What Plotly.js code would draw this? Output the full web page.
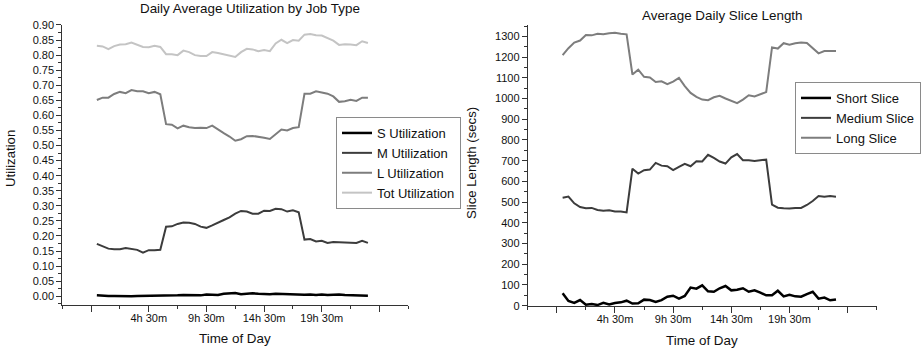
<!DOCTYPE html>
<html>
<head>
<meta charset="utf-8">
<script src="https://cdn.plot.ly/plotly-3.0.1.min.js"></script>
<style>
  html, body { margin: 0; padding: 0; background: #fff; }
  #chart { width: 921px; height: 351px; }
</style>
</head>
<body>
<div id="chart"></div>
<script>
// Half-hour time slots (hours after midnight)
const hours = [0, 0.5, 1, 1.5, 2, 2.5, 3, 3.5, 4, 4.5, 5, 5.5, 6, 6.5, 7, 7.5,
  8, 8.5, 9, 9.5, 10, 10.5, 11, 11.5, 12, 12.5, 13, 13.5, 14, 14.5, 15, 15.5,
  16, 16.5, 17, 17.5, 18, 18.5, 19, 19.5, 20, 20.5, 21, 21.5, 22, 22.5, 23, 23.5];

// Utilization by job type
const sUtil = [0.003, 0.001, 0.001, 0.001, 0.000, 0.001, 0.000, 0.001, 0.001, 0.001, 0.002, 0.002,
  0.002, 0.002, 0.003, 0.004, 0.003, 0.002, 0.003, 0.006, 0.004, 0.004, 0.008, 0.009,
  0.011, 0.007, 0.008, 0.010, 0.008, 0.007, 0.007, 0.008, 0.007, 0.008, 0.006, 0.005,
  0.005, 0.006, 0.004, 0.006, 0.004, 0.005, 0.006, 0.004, 0.004, 0.003, 0.002, 0.002];
const mUtil = [0.174, 0.167, 0.158, 0.156, 0.156, 0.160, 0.158, 0.154, 0.145, 0.153, 0.153, 0.154,
  0.231, 0.232, 0.240, 0.245, 0.244, 0.240, 0.231, 0.227, 0.235, 0.245, 0.253, 0.262,
  0.274, 0.283, 0.281, 0.274, 0.274, 0.284, 0.283, 0.290, 0.289, 0.281, 0.285, 0.279,
  0.188, 0.190, 0.182, 0.184, 0.177, 0.180, 0.179, 0.179, 0.177, 0.177, 0.184, 0.177];
const lUtil = [0.651, 0.659, 0.659, 0.671, 0.678, 0.674, 0.684, 0.680, 0.680, 0.674, 0.678, 0.670,
  0.571, 0.569, 0.557, 0.566, 0.561, 0.558, 0.559, 0.558, 0.566, 0.552, 0.541, 0.530,
  0.516, 0.521, 0.531, 0.532, 0.530, 0.526, 0.522, 0.538, 0.553, 0.550, 0.558, 0.561,
  0.672, 0.672, 0.680, 0.676, 0.672, 0.663, 0.645, 0.647, 0.652, 0.648, 0.659, 0.659];
const totUtil = [0.831, 0.829, 0.820, 0.830, 0.835, 0.836, 0.842, 0.834, 0.827, 0.826, 0.831, 0.827,
  0.803, 0.803, 0.800, 0.815, 0.810, 0.800, 0.797, 0.797, 0.810, 0.807, 0.803, 0.797,
  0.794, 0.810, 0.821, 0.819, 0.813, 0.817, 0.813, 0.839, 0.851, 0.840, 0.850, 0.848,
  0.868, 0.870, 0.866, 0.865, 0.856, 0.848, 0.834, 0.836, 0.835, 0.833, 0.846, 0.840];

// Average slice length in seconds
const shortSlice = [60, 23, 13, 27, 5, 8, 3, 14, 6, 13, 16, 24,
  10, 11, 29, 27, 18, 27, 43, 48, 34, 47, 87, 82,
  98, 69, 67, 84, 95, 74, 77, 84, 67, 74, 63, 50,
  50, 72, 45, 53, 45, 43, 56, 67, 34, 39, 26, 30];
const mediumSlice = [521, 527, 494, 476, 470, 472, 462, 458, 461, 455, 455, 450,
  661, 638, 654, 657, 689, 676, 673, 654, 670, 685, 673, 697,
  696, 728, 713, 696, 686, 716, 732, 702, 702, 699, 702, 705,
  488, 473, 470, 469, 472, 472, 486, 505, 529, 526, 529, 526];
const longSlice = [1209, 1243, 1270, 1280, 1307, 1305, 1313, 1310, 1315, 1317, 1313, 1310,
  1116, 1139, 1105, 1102, 1080, 1083, 1069, 1082, 1100, 1060, 1027, 1008,
  995, 992, 1006, 1013, 1000, 990, 978, 995, 1016, 1010, 1021, 1031,
  1247, 1241, 1267, 1260, 1267, 1270, 1268, 1243, 1218, 1229, 1230, 1229];

// Time-of-day axis ticks
const majorTicks = [-0.5, 4.5, 9.5, 14.5, 19.5, 24.5];
const majorLabels = ['', '4h 30m', '9h 30m', '14h 30m', '19h 30m', ''];
const minorTicks = [-3, 2, 7, 12, 17, 22, 27];

const FONT = 'Liberation Sans, Arial, Helvetica, sans-serif';
const AXIS_COLOR = '#333';

function line(name, y, color, width, xa, ya, legend) {
  return {
    type: 'scatter', mode: 'lines', name: name,
    x: hours, y: y, xaxis: xa, yaxis: ya, legend: legend,
    line: { color: color, width: width },
    hoverinfo: 'x+y'
  };
}

const traces = [
  line('S Utilization', sUtil, '#000000', 2.5, 'x', 'y', 'legend'),
  line('M Utilization', mUtil, '#3c3c3c', 2, 'x', 'y', 'legend'),
  line('L Utilization', lUtil, '#7d7d7d', 2, 'x', 'y', 'legend'),
  line('Tot Utilization', totUtil, '#c4c4c4', 2, 'x', 'y', 'legend'),
  line('Short Slice', shortSlice, '#000000', 2.5, 'x2', 'y2', 'legend2'),
  line('Medium Slice', mediumSlice, '#3c3c3c', 2, 'x2', 'y2', 'legend2'),
  line('Long Slice', longSlice, '#7d7d7d', 2, 'x2', 'y2', 'legend2')
];

function timeAxis(domain, anchor) {
  return {
    domain: domain, anchor: anchor, range: [-3, 27],
    showline: true, linecolor: AXIS_COLOR, linewidth: 1,
    showgrid: false, zeroline: false,
    tickmode: 'array', tickvals: majorTicks, ticktext: majorLabels,
    ticks: 'outside', ticklen: 6, tickwidth: 1, tickcolor: AXIS_COLOR,
    ticklabelstandoff: -3,
    tickfont: { family: FONT, size: 11, color: '#111' },
    minor: { tickmode: 'array', tickvals: minorTicks, ticks: 'outside', ticklen: 3, tickcolor: AXIS_COLOR, showgrid: false }
  };
}

function valueAxis(domain, anchor, range, dtick, minorDtick, fmt) {
  return {
    domain: domain, anchor: anchor, range: range,
    showline: true, linecolor: AXIS_COLOR, linewidth: 1,
    showgrid: false, zeroline: false,
    tickmode: 'linear', tick0: 0, dtick: dtick, tickformat: fmt,
    ticks: 'outside', ticklen: 5, tickwidth: 1, tickcolor: AXIS_COLOR,
    tickfont: { family: FONT, size: 11, color: '#111' },
    minor: { tickmode: 'linear', tick0: 0, dtick: minorDtick, ticks: 'outside', ticklen: 3, tickcolor: AXIS_COLOR, showgrid: false }
  };
}

function legendBox(x, y) {
  return {
    x: x, y: y, xanchor: 'left', yanchor: 'middle',
    bgcolor: '#ffffff', bordercolor: '#8a8a8a', borderwidth: 1,
    font: { family: FONT, size: 13, color: '#111' },
    tracegroupgap: 0
  };
}

function label(text, x, y, size, angle) {
  return {
    text: text, xref: 'paper', yref: 'paper', x: x, y: y,
    xanchor: 'center', yanchor: 'middle', showarrow: false,
    textangle: angle || 0,
    font: { family: FONT, size: size, color: '#111' }
  };
}

const layout = {
  width: 921, height: 351,
  margin: { l: 0, r: 0, t: 0, b: 0 },
  paper_bgcolor: '#ffffff', plot_bgcolor: '#ffffff',
  font: { family: FONT, color: '#111' },
  showlegend: true,
  xaxis: timeAxis([0.0676, 0.4433], 'y'),
  yaxis: valueAxis([0.1319, 0.9288], 'x', [-0.028, 0.9], 0.05, 0.025, '.2f'),
  xaxis2: timeAxis([0.5730, 0.9519], 'y2'),
  yaxis2: valueAxis([0.1274, 0.9288], 'x2', [-3, 1355], 100, 50, 'd'),
  legend: legendBox(0.3648, 0.5356),
  legend2: legendBox(0.8632, 0.6638),
  annotations: [
    label('Daily Average Utilization by Job Type', 0.2714, 0.977, 13.4),
    label('Average Daily Slice Length', 0.785, 0.957, 13.4),
    label('Time of Day', 0.2552, 0.037, 13.4),
    label('Time of Day', 0.7622, 0.0313, 13.4),
    label('Utilization', 0.0119, 0.55, 13.2, -90),
    label('Slice Length (secs)', 0.5114, 0.5356, 13.2, -90)
  ]
};

Plotly.newPlot('chart', traces, layout, { displayModeBar: false, staticPlot: true });
</script>
</body>
</html>
